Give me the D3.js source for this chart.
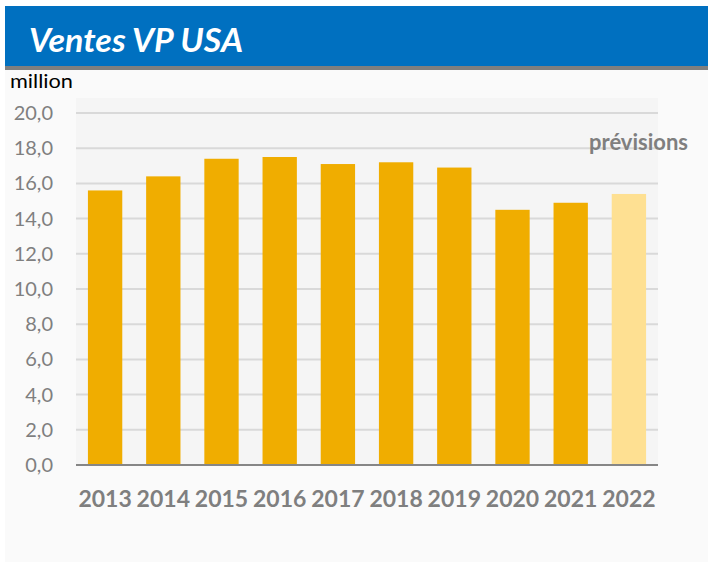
<!DOCTYPE html>
<html><head><meta charset="utf-8">
<script src="https://cdn.jsdelivr.net/npm/d3@7"></script>
<style>body{margin:0;background:#fff;}svg{display:block;}</style>
</head><body>
<script>
const years = ["2013","2014","2015","2016","2017","2018","2019","2020","2021","2022"];
const sales = [15.6, 16.4, 17.4, 17.5, 17.1, 17.2, 16.9, 14.5, 14.9, 15.4];
const forecast = [false,false,false,false,false,false,false,false,false,true];
const yTicks = [0,2,4,6,8,10,12,14,16,18,20];
const title = "Ventes VP USA";
const unitLabel = "million";
const forecastLabel = "prévisions";

const W = 708, H = 562;
const svg = d3.select("body").append("svg").attr("width", W).attr("height", H);
const font = "Lato, 'Open Sans', sans-serif";

// panel background
svg.append("rect").attr("x",5).attr("y",66).attr("width",W-5).attr("height",H-66).attr("fill","#fafafa");
// header
svg.append("rect").attr("x",5).attr("y",6).attr("width",W-5).attr("height",60).attr("fill","#0070c0");
svg.append("rect").attr("x",5).attr("y",66).attr("width",W-5).attr("height",4).attr("fill","#7f7f7f");
svg.append("text").attr("x",29).attr("y",52).attr("fill","#fff")
  .attr("font-family",font).attr("font-size",33).attr("font-weight","bold").attr("font-style","italic")
  .attr("textLength",214).attr("lengthAdjust","spacingAndGlyphs")
  .text(title);

const m = {left:76, right:658, top:113, bottom:465};
svg.append("rect").attr("x",m.left).attr("y",98).attr("width",m.right-m.left).attr("height",m.bottom-98).attr("fill","#f5f5f5");

const x = d3.scaleBand().domain(years).range([m.left,m.right]).paddingInner(0.41).paddingOuter(0.205);
const y = d3.scaleLinear().domain([0,20]).range([m.bottom,m.top]);

// grid
svg.append("g").selectAll("line").data(yTicks.filter(t=>t>0)).join("line")
  .attr("x1",m.left).attr("x2",m.right).attr("y1",d=>y(d)).attr("y2",d=>y(d))
  .attr("stroke","#d9d9d9").attr("stroke-width",2);

// y axis
const yAxis = d3.axisLeft(y).tickValues(yTicks).tickSize(0).tickPadding(0)
  .tickFormat(d=>d3.format(".1f")(d).replace(".",","));
const gy = svg.append("g").attr("transform",`translate(53,0)`).call(yAxis);
gy.select(".domain").remove();
gy.selectAll("text").attr("fill","#7f7f7f").attr("font-family",font).attr("font-size",20);

// bars
svg.append("g").selectAll("rect").data(years).join("rect")
  .attr("x",d=>x(d)).attr("width",x.bandwidth())
  .attr("y",(d,i)=>y(sales[i])).attr("height",(d,i)=>y(0)-y(sales[i]))
  .attr("fill",(d,i)=>forecast[i]?"#fee092":"#f0ad00");

// baseline
svg.append("line").attr("x1",m.left).attr("x2",m.right).attr("y1",y(0)).attr("y2",y(0))
  .attr("stroke","#868686").attr("stroke-width",2);

// x axis
const xAxis = d3.axisBottom(x).tickSize(0).tickPadding(0);
const gx = svg.append("g").attr("transform",`translate(0,${y(0)+42})`).call(xAxis);
gx.select(".domain").remove();
gx.selectAll("text").attr("fill","#7f7f7f").attr("font-family",font).attr("font-size",23).attr("font-weight","bold").attr("dy","0");

svg.append("text").attr("x",10).attr("y",88).attr("fill","#000").attr("font-family",font).attr("font-size",19)
  .attr("textLength",63).attr("lengthAdjust","spacingAndGlyphs").text(unitLabel);
svg.append("text").attr("x",589).attr("y",150).attr("fill","#7f7f7f").attr("font-family",font).attr("font-size",22).attr("font-weight","bold").text(forecastLabel);
</script>
</body></html>
